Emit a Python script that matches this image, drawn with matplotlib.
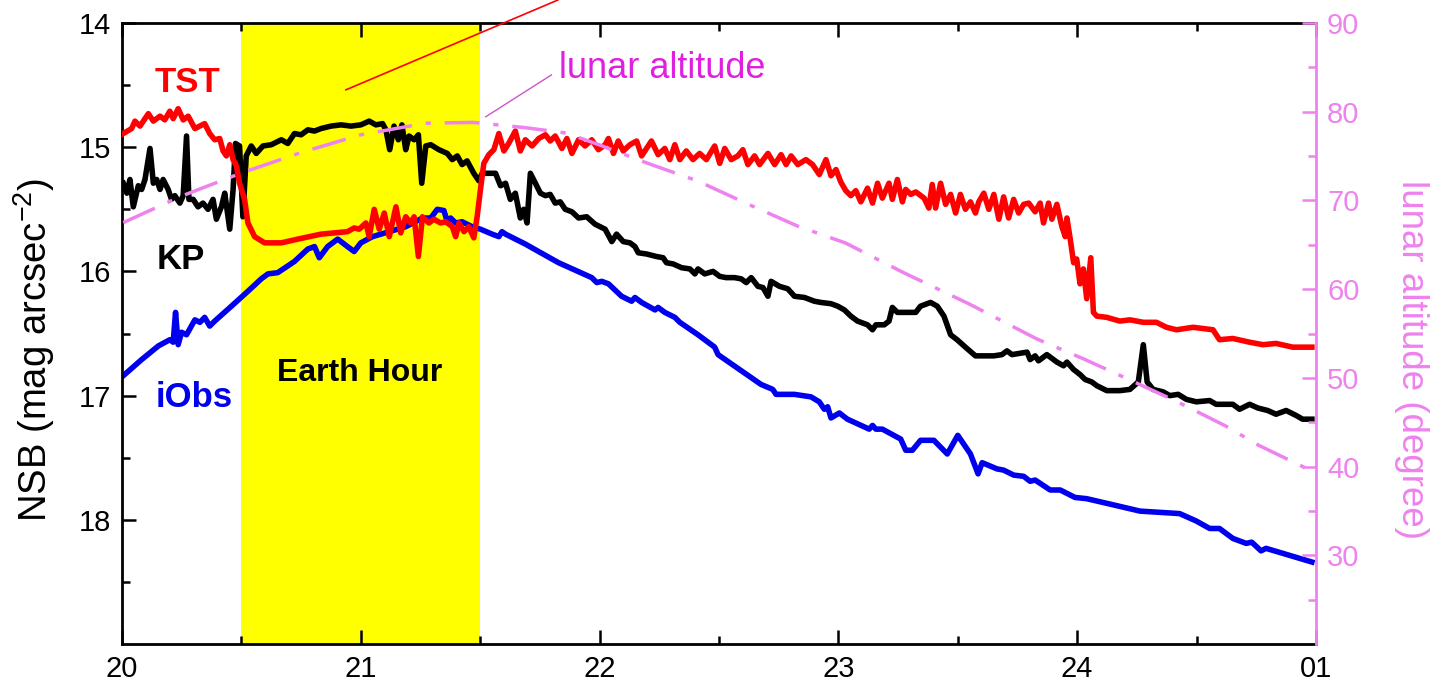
import numpy as np
import matplotlib
matplotlib.use('Agg')
import matplotlib.pyplot as plt
from matplotlib.ticker import MultipleLocator, FixedLocator

plt.rcParams['font.family'] = ['Liberation Sans', 'DejaVu Sans']
plt.rcParams['mathtext.default'] = 'regular'

# time in hours (local), NSB in mag arcsec^-2
tst_t = [20.005, 20.040, 20.054, 20.075, 20.110, 20.131, 20.159, 20.179, 20.200, 20.214,
         20.235, 20.256, 20.277, 20.305, 20.326, 20.346, 20.367, 20.388, 20.409, 20.423,
         20.437, 20.451, 20.465, 20.479, 20.492, 20.513, 20.527, 20.555, 20.597, 20.667,
         20.736, 20.833, 20.944, 20.972, 20.993, 21.021, 21.035, 21.056, 21.077, 21.098,
         21.119, 21.147, 21.167, 21.188, 21.209, 21.223, 21.241, 21.258, 21.285, 21.306,
         21.334, 21.355, 21.383, 21.397, 21.411, 21.432, 21.452, 21.473, 21.487, 21.501,
         21.515, 21.536, 21.557, 21.578, 21.599, 21.619, 21.647, 21.668, 21.689, 21.717,
         21.745, 21.773, 21.793, 21.814, 21.842, 21.863, 21.884, 21.912, 21.939, 21.967,
         21.995, 22.023, 22.037, 22.058, 22.078, 22.099, 22.127, 22.155, 22.176, 22.217,
         22.245, 22.273, 22.294, 22.315, 22.336, 22.363, 22.391, 22.419, 22.447, 22.482,
         22.503, 22.524, 22.551, 22.579, 22.600, 22.621, 22.649, 22.670, 22.705, 22.733,
         22.760, 22.781, 22.802, 22.830, 22.864, 22.892, 22.920, 22.948, 22.969, 22.990,
         23.010, 23.031, 23.052, 23.073, 23.094, 23.122, 23.143, 23.164, 23.184, 23.212,
         23.226, 23.247, 23.268, 23.282, 23.303, 23.324, 23.359, 23.379, 23.393, 23.407,
         23.428, 23.449, 23.470, 23.491, 23.511, 23.532, 23.553, 23.574, 23.588, 23.609,
         23.630, 23.651, 23.672, 23.692, 23.713, 23.734, 23.755, 23.776, 23.797, 23.824,
         23.845, 23.859, 23.880, 23.894, 23.915, 23.936, 23.950, 23.957, 23.971, 23.985,
         23.998, 24.012, 24.026, 24.040, 24.057, 24.068, 24.082, 24.124, 24.179, 24.221,
         24.277, 24.332, 24.374, 24.416, 24.485, 24.569, 24.596, 24.652, 24.722, 24.778,
         24.833, 24.903, 24.983]
tst_nsb = [14.89, 14.85, 14.79, 14.83, 14.73, 14.79, 14.75, 14.78, 14.71, 14.77,
           14.69, 14.78, 14.75, 14.85, 14.83, 14.81, 14.89, 14.94, 14.93, 15.03,
           15.07, 14.98, 15.10, 15.15, 15.29, 15.42, 15.61, 15.72, 15.77, 15.77,
           15.74, 15.70, 15.68, 15.65, 15.66, 15.61, 15.72, 15.50, 15.66, 15.53,
           15.72, 15.48, 15.69, 15.56, 15.61, 15.56, 15.88, 15.56, 15.61, 15.58,
           15.61, 15.60, 15.64, 15.72, 15.61, 15.68, 15.64, 15.73, 15.56, 15.34,
           15.13, 15.06, 15.02, 14.89, 15.03, 14.97, 14.87, 15.03, 14.94, 14.99,
           14.93, 14.90, 14.95, 14.91, 15.01, 14.93, 15.05, 14.94, 14.99, 14.94,
           15.02, 14.98, 14.93, 15.05, 14.95, 15.03, 14.98, 14.95, 15.07, 14.95,
           15.06, 15.01, 15.10, 14.98, 15.10, 15.03, 15.10, 15.05, 15.10, 14.99,
           15.13, 15.01, 15.10, 15.07, 15.02, 15.14, 15.07, 15.14, 15.05, 15.14,
           15.06, 15.14, 15.07, 15.14, 15.10, 15.14, 15.22, 15.10, 15.23, 15.18,
           15.28, 15.35, 15.39, 15.35, 15.44, 15.33, 15.45, 15.29, 15.41, 15.29,
           15.42, 15.26, 15.44, 15.34, 15.38, 15.36, 15.41, 15.49, 15.30, 15.49,
           15.29, 15.46, 15.38, 15.53, 15.38, 15.50, 15.44, 15.53, 15.44, 15.37,
           15.50, 15.38, 15.58, 15.40, 15.57, 15.42, 15.53, 15.46, 15.45, 15.52,
           15.45, 15.61, 15.45, 15.58, 15.46, 15.64, 15.72, 15.57, 15.74, 15.93,
           15.90, 16.10, 15.98, 16.22, 15.89, 16.33, 16.36, 16.37, 16.40, 16.39,
           16.41, 16.41, 16.45, 16.47, 16.45, 16.47, 16.55, 16.54, 16.57, 16.59,
           16.58, 16.61, 16.61]

kp_t = [20.005, 20.020, 20.033, 20.047, 20.068, 20.082, 20.096, 20.117, 20.131, 20.145,
        20.159, 20.172, 20.193, 20.207, 20.221, 20.242, 20.256, 20.270, 20.280, 20.298,
        20.318, 20.339, 20.360, 20.381, 20.395, 20.416, 20.430, 20.451, 20.465, 20.475,
        20.492, 20.506, 20.520, 20.541, 20.562, 20.590, 20.625, 20.667, 20.694, 20.722,
        20.750, 20.778, 20.806, 20.833, 20.875, 20.917, 20.959, 21.000, 21.035, 21.063,
        21.091, 21.105, 21.121, 21.139, 21.157, 21.172, 21.188, 21.202, 21.223, 21.241,
        21.255, 21.272, 21.293, 21.327, 21.362, 21.383, 21.404, 21.424, 21.445, 21.473,
        21.494, 21.508, 21.564, 21.585, 21.606, 21.626, 21.647, 21.668, 21.682, 21.696,
        21.710, 21.731, 21.752, 21.773, 21.793, 21.814, 21.835, 21.856, 21.884, 21.912,
        21.946, 21.981, 22.023, 22.051, 22.071, 22.099, 22.127, 22.148, 22.162, 22.197,
        22.238, 22.266, 22.280, 22.308, 22.343, 22.378, 22.399, 22.412, 22.440, 22.475,
        22.503, 22.530, 22.565, 22.593, 22.614, 22.635, 22.663, 22.684, 22.705, 22.718,
        22.753, 22.788, 22.816, 22.858, 22.899, 22.927, 22.969, 22.997, 23.025, 23.052,
        23.080, 23.122, 23.143, 23.157, 23.192, 23.212, 23.226, 23.247, 23.324, 23.344,
        23.386, 23.414, 23.442, 23.470, 23.497, 23.532, 23.574, 23.651, 23.685, 23.706,
        23.727, 23.790, 23.803, 23.824, 23.838, 23.873, 23.915, 23.943, 23.957, 23.985,
        24.012, 24.033, 24.061, 24.082, 24.124, 24.179, 24.221, 24.256, 24.277, 24.293,
        24.318, 24.360, 24.388, 24.423, 24.457, 24.499, 24.555, 24.582, 24.652, 24.680,
        24.722, 24.757, 24.798, 24.833, 24.875, 24.917, 24.944, 24.983]
kp_nsb = [15.29, 15.37, 15.26, 15.48, 15.31, 15.34, 15.26, 15.01, 15.29, 15.26,
          15.34, 15.26, 15.34, 15.42, 15.39, 15.45, 15.39, 14.91, 15.42, 15.42,
          15.48, 15.45, 15.50, 15.42, 15.58, 15.48, 15.37, 15.66, 15.34, 14.97,
          14.99, 15.56, 15.07, 14.99, 15.05, 14.99, 14.98, 14.94, 14.97, 14.89,
          14.90, 14.86, 14.87, 14.85, 14.83, 14.82, 14.83, 14.82, 14.79, 14.82,
          14.81, 14.86, 15.02, 14.83, 14.94, 14.82, 15.02, 14.91, 14.94, 14.90,
          15.29, 14.99, 14.98, 15.02, 15.05, 15.10, 15.07, 15.14, 15.11, 15.21,
          15.27, 15.21, 15.21, 15.31, 15.29, 15.42, 15.37, 15.57, 15.50, 15.61,
          15.21, 15.29, 15.37, 15.39, 15.38, 15.45, 15.44, 15.50, 15.52, 15.57,
          15.56, 15.62, 15.66, 15.76, 15.70, 15.76, 15.77, 15.80, 15.85, 15.86,
          15.88, 15.89, 15.93, 15.94, 15.97, 15.98, 16.02, 15.98, 16.02, 16.00,
          16.04, 16.05, 16.05, 16.06, 16.09, 16.05, 16.12, 16.13, 16.20, 16.08,
          16.12, 16.14, 16.20, 16.21, 16.24, 16.25, 16.26, 16.28, 16.31, 16.36,
          16.40, 16.43, 16.47, 16.43, 16.43, 16.40, 16.29, 16.33, 16.33, 16.28,
          16.25, 16.28, 16.36, 16.51, 16.55, 16.61, 16.68, 16.68, 16.67, 16.64,
          16.67, 16.65, 16.71, 16.68, 16.72, 16.67, 16.73, 16.76, 16.73, 16.79,
          16.83, 16.87, 16.89, 16.92, 16.96, 16.96, 16.95, 16.89, 16.59, 16.89,
          16.95, 16.97, 17.00, 16.99, 17.03, 17.05, 17.04, 17.07, 17.07, 17.11,
          17.07, 17.10, 17.12, 17.15, 17.12, 17.16, 17.19, 17.19]

iobs_t = [20.005, 20.082, 20.152, 20.200, 20.214, 20.224, 20.235, 20.249, 20.270, 20.305,
          20.326, 20.346, 20.367, 20.388, 20.458, 20.527, 20.583, 20.611, 20.652, 20.722,
          20.778, 20.806, 20.826, 20.861, 20.903, 20.944, 20.972, 21.000, 21.049, 21.119,
          21.188, 21.258, 21.293, 21.320, 21.348, 21.362, 21.376, 21.397, 21.424, 21.466,
          21.501, 21.550, 21.578, 21.591, 21.606, 21.689, 21.828, 21.967, 21.988, 22.009,
          22.037, 22.092, 22.134, 22.148, 22.176, 22.232, 22.245, 22.273, 22.315, 22.336,
          22.412, 22.482, 22.496, 22.676, 22.725, 22.739, 22.816, 22.885, 22.920, 22.941,
          22.955, 22.969, 23.004, 23.038, 23.129, 23.143, 23.157, 23.184, 23.261, 23.282,
          23.310, 23.344, 23.400, 23.456, 23.500, 23.553, 23.585, 23.602, 23.664, 23.692,
          23.734, 23.776, 23.803, 23.824, 23.887, 23.929, 23.991, 24.040, 24.152, 24.263,
          24.429, 24.499, 24.555, 24.596, 24.652, 24.708, 24.731, 24.770, 24.791, 24.983]
iobs_nsb = [16.84, 16.71, 16.60, 16.55, 16.57, 16.33, 16.59, 16.49, 16.51, 16.39,
            16.41, 16.37, 16.44, 16.40, 16.28, 16.16, 16.06, 16.02, 16.01, 15.92,
            15.82, 15.80, 15.89, 15.80, 15.74, 15.80, 15.84, 15.77, 15.72, 15.68,
            15.64, 15.57, 15.57, 15.50, 15.51, 15.60, 15.57, 15.61, 15.60, 15.64,
            15.66, 15.70, 15.72, 15.68, 15.70, 15.78, 15.93, 16.05, 16.09, 16.08,
            16.10, 16.20, 16.24, 16.21, 16.25, 16.31, 16.29, 16.33, 16.37, 16.41,
            16.51, 16.61, 16.67, 16.91, 16.95, 16.99, 16.99, 17.01, 17.05, 17.11,
            17.09, 17.18, 17.14, 17.19, 17.27, 17.24, 17.27, 17.27, 17.35, 17.44,
            17.44, 17.36, 17.36, 17.47, 17.32, 17.47, 17.63, 17.54, 17.59, 17.60,
            17.64, 17.65, 17.69, 17.68, 17.76, 17.76, 17.82, 17.83, 17.88, 17.93,
            17.95, 18.01, 18.07, 18.07, 18.15, 18.19, 18.18, 18.25, 18.23, 18.34]

moon_t = [20.005, 20.25, 20.50, 20.75, 21.00, 21.27, 21.47, 21.69, 21.86, 21.995,
          22.20, 22.41, 22.62, 22.83, 23.03, 23.27, 23.55, 23.83, 24.03, 24.21,
          24.42, 24.62, 24.76, 24.96]
moon_alt = [67.5, 70.5, 73.1, 75.4, 77.4, 78.7, 78.8, 78.2, 77.6, 76.3,
            74.2, 72.2, 69.6, 67.1, 65.2, 61.9, 58.3, 54.4, 52.1, 49.9,
            47.3, 44.6, 42.4, 39.8]

x_ticks = [20, 21, 22, 23, 24, 25]
x_labels = ['20', '21', '22', '23', '24', '01']

pink = '#ee82ee'

fig = plt.figure(figsize=(14.31, 6.87), dpi=100)
ax = fig.add_axes([0.0853, 0.0626, 0.8343, 0.9039])

ax.axvspan(20.5, 21.5, color='#ffff00', zorder=0, lw=0)
ax.plot(iobs_t, iobs_nsb, color='#0000ee', lw=4, zorder=2)
ax.plot(kp_t, kp_nsb, color='black', lw=4, zorder=3)
ax.plot(tst_t, tst_nsb, color='#ff0000', lw=4, zorder=4)

ax.set_xlim(20, 25)
ax.set_ylim(19, 14)
ax.set_xticks(x_ticks)
ax.set_xticklabels(x_labels)
ax.xaxis.set_minor_locator(MultipleLocator(0.5))
ax.set_yticks([14, 15, 16, 17, 18])
ax.yaxis.set_minor_locator(FixedLocator([14.5, 15.5, 16.5, 17.5, 18.5]))
ax.tick_params(which='both', direction='in', top=True, right=True, width=1.8,
               labelsize=21, colors='black', pad=8)
ax.tick_params(which='major', length=10)
ax.tick_params(which='minor', length=6)
ax.spines['right'].set_visible(False)
for s in ['left', 'top', 'bottom']:
    ax.spines[s].set_linewidth(2)
fig.text(0.024, 0.49, 'NSB (mag arcsec$^{-2}$)', fontsize=27.5, rotation=90,
         ha='center', va='center')

ax.text(20.276, 14.554, 'TST', color='#ff0000', fontsize=25, fontweight='bold',
        ha='center', va='baseline')
ax.text(20.246, 15.984, 'KP', color='black', fontsize=25, fontweight='bold',
        ha='center', va='baseline')
ax.text(20.30, 17.092, 'iObs', color='#0000ee', fontsize=25, fontweight='bold',
        ha='center', va='baseline')
ax.text(20.997, 16.884, 'Earth Hour', color='black', fontsize=23, fontweight='bold',
        ha='center', va='baseline')
ax.text(22.262, 14.442, 'lunar altitude', color='#e020e0', fontsize=26,
        ha='center', va='baseline')
ax.plot([21.523, 21.798], [14.755, 14.418], color='#cc55cc', lw=1, zorder=5)
ax.plot([20.9375, 21.825], [14.538, 13.815], color='#ff0000', lw=1.2,
        clip_on=False, zorder=5)

ax2 = ax.twinx()
ax2.plot(moon_t, moon_alt, color=pink, lw=2.5, linestyle=(0, (10, 4, 1.5, 4)))
ax2.set_ylim(20, 90)
ax2.set_yticks([30, 40, 50, 60, 70, 80, 90])
ax2.yaxis.set_minor_locator(FixedLocator([25, 35, 45, 55, 65, 75, 85]))
ax2.tick_params(which='both', direction='in', colors=pink, width=1.8,
                labelsize=21, pad=8)
ax2.tick_params(which='major', length=10)
ax2.tick_params(which='minor', length=6)
for s in ['left', 'top', 'bottom']:
    ax2.spines[s].set_visible(False)
ax2.spines['right'].set_color(pink)
ax2.spines['right'].set_linewidth(2)
fig.text(0.9867, 0.476, 'lunar altitude (degree)', fontsize=26.5, color=pink,
         rotation=270, ha='center', va='center')

fig.savefig('out.png', dpi=100)
